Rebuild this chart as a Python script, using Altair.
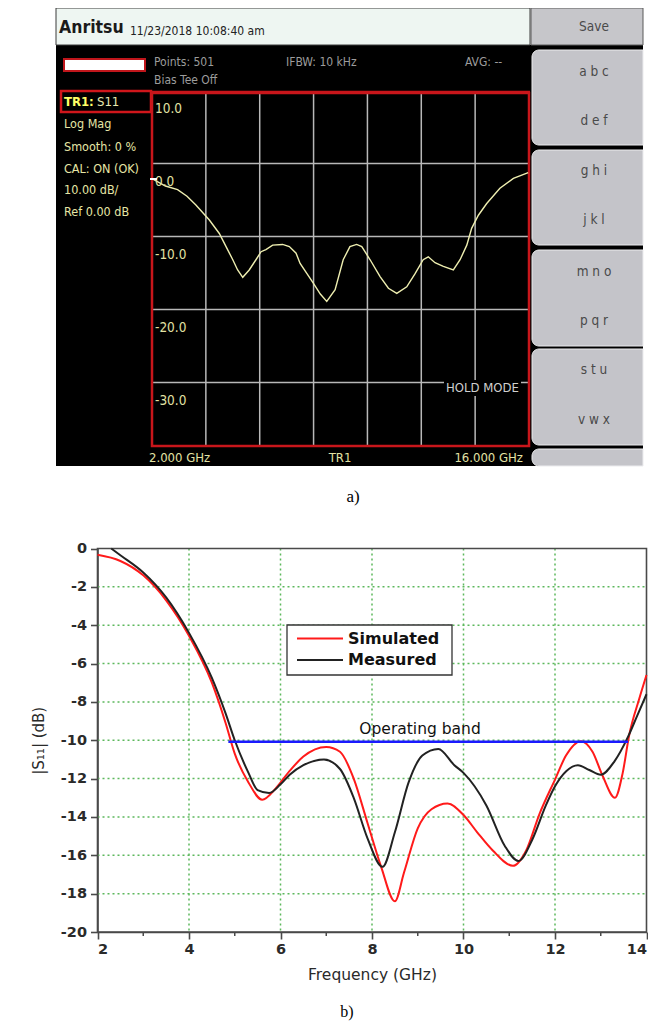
import altair as alt
import pandas as pd

# ---------------- data ----------------
# a) VNA screen trace, S11 in dB vs GHz
vna_freq = [2.0, 2.5, 2.95, 3.3, 3.63, 4.13, 4.5, 4.75, 5.0, 5.18, 5.37, 5.61, 5.86, 6.05,
            6.23, 6.48, 6.85, 7.1, 7.35, 7.5, 7.99, 8.25, 8.49, 8.8, 9.1, 9.35, 9.6, 9.79,
            10.1, 10.47, 10.78, 11.09, 11.46, 11.77, 12.07, 12.26, 12.51, 12.82, 13.19,
            13.44, 13.69, 13.87, 14.12, 14.43, 14.92, 15.42, 15.97]
vna_db = [-0.1, -1.1, -1.6, -2.5, -3.7, -5.75, -7.6, -9.4, -11.2, -12.6, -13.6, -12.6, -11.2,
          -10.1, -9.8, -9.2, -9.1, -9.4, -10.3, -11.7, -14.4, -15.9, -16.9, -15.3, -11.2,
          -9.4, -9.1, -9.4, -11.2, -13.5, -15.1, -15.8, -14.9, -13.1, -11.2, -10.8, -11.6,
          -12.1, -12.6, -11.2, -9.2, -6.9, -5.1, -3.5, -1.4, -0.05, 0.73]
vna_grid_freq = [4, 6, 8, 10, 12, 14]
vna_grid_db = [2, -8, -18, -28]
vna_label_db = [10, 0, -10, -20, -30]

# b) simulated / measured |S11|
sim_freq = [2.0, 2.5, 3.0, 3.5, 4.0, 4.5, 4.8, 5.0, 5.3, 5.6, 5.9, 6.2, 6.5, 7.0, 7.3, 7.6,
            7.9, 8.2, 8.5, 8.7, 9.0, 9.3, 9.65, 10.0, 10.3, 10.64, 11.08, 11.37, 11.66, 12.0,
            12.24, 12.57, 12.82, 13.04, 13.31, 13.48, 13.62, 13.84, 14.0]
sim_db = [-0.33, -0.65, -1.4, -2.7, -4.55, -7.0, -9.1, -10.7, -12.2, -13.1, -12.5, -11.6,
          -10.85, -10.35, -10.6, -12.0, -14.3, -16.6, -18.4, -16.9, -14.6, -13.6, -13.3,
          -13.9, -14.8, -15.75, -16.55, -15.75, -13.85, -12.05, -10.8, -10.05, -10.6,
          -11.85, -13.0, -11.7, -9.75, -7.85, -6.6]
meas_freq = [2.3, 2.5, 3.0, 3.5, 4.0, 4.5, 4.8, 5.0, 5.3, 5.5, 5.75, 6.0, 6.2, 6.5, 6.95, 7.3,
             7.6, 7.9, 8.23, 8.5, 8.8, 9.1, 9.45, 9.8, 10.0, 10.5, 10.9, 11.2, 11.5, 11.8,
             12.0, 12.25, 12.5, 12.75, 13.0, 13.3, 13.6, 13.8, 14.0]
meas_db = [0.0, -0.35, -1.25, -2.55, -4.4, -6.75, -8.6, -10.0, -11.7, -12.6, -12.75, -12.3,
           -11.8, -11.3, -11.0, -11.5, -13.0, -15.1, -16.6, -14.8, -12.2, -10.8, -10.45,
           -11.3, -11.7, -13.4, -15.5, -16.3, -15.2, -13.4, -12.4, -11.6, -11.3, -11.55,
           -11.8, -11.1, -9.8, -8.7, -7.6]
band_freq = [4.86, 13.6]
band_db = [-10.08, -10.08]
grid_freq = [4, 6, 8, 10, 12]
grid_db = [-2, -4, -6, -8, -10, -12, -14, -16, -18]
minor_freq = [3, 5, 7, 9, 11, 13]
series_names = ["Simulated", "Measured"]

# ---------------- layout helpers ----------------
W, H = 640, 1014


def X(px):
    return px - 8


def Y(py):
    return py - 8


one = pd.DataFrame({"k": [0]})
NARROW = "DejaVu Sans Condensed, Liberation Sans Narrow, DejaVu Sans, sans-serif"
SANS = "DejaVu Sans"


def box(x1, y1, x2, y2, **kw):
    return alt.Chart(one).mark_rect(**kw).encode(
        x=alt.value(X(x1)), x2=alt.value(X(x2)), y=alt.value(Y(y1)), y2=alt.value(Y(y2)))


def txt(s, x, y, **kw):
    kw.setdefault("baseline", "middle")
    kw.setdefault("align", "left")
    return alt.Chart(one).mark_text(text=s, **kw).encode(x=alt.value(X(x)), y=alt.value(Y(y)))


def hline(x1, x2, y, **kw):
    return alt.Chart(one).mark_rule(**kw).encode(
        x=alt.value(X(x1)), x2=alt.value(X(x2)), y=alt.value(Y(y)))


layers = []

# ================= a) VNA screenshot =================
layers += [
    box(56, 45, 643, 466, fill="#000000"),
    box(56, 8, 530, 45, fill="#eef6f2", stroke="#3a3a3a", strokeWidth=1),
    box(531, 8, 643, 45, fill="#c6c6ca", stroke="#5a5a5a", strokeWidth=1),
]
for (b1, b2) in [(50, 145), (150, 245), (250, 346), (349, 445), (449, 466)]:
    layers.append(box(532, b1, 643, b2, fill="#c4c4c9", stroke="#ececee", strokeWidth=1,
                      cornerRadiusTopLeft=7, cornerRadiusBottomLeft=7))
for s, yy in [("Save", 27), ("a b c", 72), ("d e f", 121), ("g h i", 171), ("j k l", 220),
              ("m n o", 272), ("p q r", 321), ("s t u", 370), ("v w x", 420)]:
    layers.append(txt(s, 594, yy, align="center", font=NARROW, fontSize=13.5, color="#4a4a4a"))

layers += [
    txt("Anritsu", 59, 28, font=NARROW, fontSize=17.5, fontWeight="bold", color="#1a1a1a"),
    txt("11/23/2018 10:08:40 am", 130, 31, font=NARROW, fontSize=12, color="#222222"),
    box(64, 59, 145, 71, fill="#ffffff", stroke="#c0161b", strokeWidth=2),
    txt("Points: 501", 154, 62, font=NARROW, fontSize=12, color="#9c9c9c"),
    txt("Bias Tee Off", 154, 80, font=NARROW, fontSize=12, color="#9c9c9c"),
    txt("IFBW: 10 kHz", 286, 62, font=NARROW, fontSize=12, color="#9c9c9c"),
    txt("AVG: --", 465, 62, font=NARROW, fontSize=12, color="#9c9c9c"),
    box(61, 91, 151, 112, fillOpacity=0, fill="#000000", stroke="#d0161b", strokeWidth=2.5),
    txt("TR1:", 64, 102, font=NARROW, fontSize=13, fontWeight="bold", color="#ffff66"),
    txt("S11", 97, 102, font=NARROW, fontSize=13, color="#e8e8b0"),
]
for s, yy in [("Log Mag", 124), ("Smooth: 0 %", 147), ("CAL: ON (OK)", 169),
              ("10.00 dB/", 190), ("Ref 0.00 dB", 212)]:
    layers.append(txt(s, 64, yy, font=NARROW, fontSize=12.5, color="#e6e6a6"))
layers.append(hline(151, 530, 92, color="#c8161b", strokeWidth=2.5))

# VNA scales: 0 dB at y=178, 10 dB per 73 px
px_per_db = 7.3
vna_top = (178 - 93) / px_per_db
vna_bot = -(446 - 178) / px_per_db
xv = alt.Scale(domain=[2, 16], range=[X(152), X(529)], nice=False, zero=False)
yv = alt.Scale(domain=[vna_bot, vna_top], range=[Y(446), Y(93)], nice=False, zero=False)

vgrid = alt.Chart(pd.DataFrame({"f": vna_grid_freq})).mark_rule(
    color="#b8b8b8", strokeWidth=1.5).encode(
    x=alt.X("f:Q", scale=xv, axis=None), y=alt.value(Y(93)), y2=alt.value(Y(446)))
hgrid = alt.Chart(pd.DataFrame({"d": vna_grid_db})).mark_rule(
    color="#b8b8b8", strokeWidth=1.5).encode(
    y=alt.Y("d:Q", scale=yv, axis=None), x=alt.value(X(152)), x2=alt.value(X(529)))
layers += [vgrid, hgrid,
           box(444, 380, 521, 396, fill="#000000"),
           box(152, 93, 529, 446, fillOpacity=0, fill="#000000", stroke="#c8161b", strokeWidth=2.5)]

trace = alt.Chart(pd.DataFrame({"f": vna_freq, "d": vna_db})).mark_line(
    color="#eeeeb0", strokeWidth=1.4).encode(
    x=alt.X("f:Q", scale=xv, axis=None), y=alt.Y("d:Q", scale=yv, axis=None))
lab_df = pd.DataFrame({"d": vna_label_db, "lbl": [f"{v:.1f}" for v in vna_label_db]})
vlabels = alt.Chart(lab_df).mark_text(
    align="left", baseline="middle", dy=4, font=NARROW, fontSize=13.5, color="#e2e2a4").encode(
    y=alt.Y("d:Q", scale=yv, axis=None), x=alt.value(X(155)), text="lbl:N")
layers += [trace, vlabels,
           hline(150, 157, 179, color="#ffffff", strokeWidth=2),
           txt("2.000 GHz", 149, 458, font=NARROW, fontSize=13, color="#e2e2a4"),
           txt("TR1", 340, 458, align="center", font=NARROW, fontSize=13, color="#e2e2a4"),
           txt("16.000 GHz", 523, 458, align="right", font=NARROW, fontSize=13, color="#e2e2a4"),
           txt("HOLD MODE", 446, 388, font=NARROW, fontSize=13, color="#d0d0d0"),
           txt("a)", 353, 497, align="center", font="Liberation Serif", fontSize=17, color="#000000"),
           txt("b)", 347, 1012, align="center", font="Liberation Serif", fontSize=16, color="#000000")]

# ================= b) |S11| plot =================
xb = alt.Scale(domain=[2, 14], range=[X(97.5), X(646.5)], nice=False, zero=False)
yb = alt.Scale(domain=[-20, 0], range=[Y(932), Y(548.5)], nice=False, zero=False)
AX = "#4a4a4a"
GREEN = "#5cb85c"

bgrid_v = alt.Chart(pd.DataFrame({"f": grid_freq})).mark_rule(
    color=GREEN, strokeDash=[2, 3], strokeWidth=1.5).encode(
    x=alt.X("f:Q", scale=xb, axis=None),
    y=alt.YDatum(0, scale=yb, axis=None), y2=alt.Y2Datum(-20))
bgrid_h = alt.Chart(pd.DataFrame({"d": grid_db})).mark_rule(
    color=GREEN, strokeDash=[2, 3], strokeWidth=1.5).encode(
    y=alt.Y("d:Q", scale=yb, axis=None),
    x=alt.XDatum(2, scale=xb, axis=None), x2=alt.X2Datum(14))
frame = alt.Chart(one).mark_rect(fillOpacity=0, fill="#ffffff", stroke=AX, strokeWidth=1.6).encode(
    x=alt.XDatum(2, scale=xb, axis=None), x2=alt.X2Datum(14),
    y=alt.YDatum(0, scale=yb, axis=None), y2=alt.Y2Datum(-20))
minor = alt.Chart(pd.DataFrame({"f": minor_freq})).mark_rule(color=AX, strokeWidth=1.5).encode(
    x=alt.X("f:Q", scale=xb, axis=None), y=alt.value(Y(932)), y2=alt.value(Y(932) + 4))

xaxis = alt.Axis(orient="bottom", offset=Y(932) - H, values=[2, 4, 6, 8, 10, 12, 14],
                 grid=False, domainColor=AX, domainWidth=1.6, tickColor=AX, tickWidth=1.6,
                 tickSize=7, labelFont=SANS, labelFontWeight="bold", labelFontSize=14.5,
                 labelColor="#2a2a2a", labelPadding=3, labelExpr="'' + datum.value",
                 title="Frequency (GHz)", titleFont=SANS, titleFontWeight="normal",
                 titleFontSize=15.5, titleColor="#2a2a2a", titlePadding=12)
yaxis = alt.Axis(orient="left", offset=-X(97.5), values=list(range(0, -21, -2)),
                 grid=False, domainColor=AX, domainWidth=1.6, tickColor=AX, tickWidth=1.6,
                 tickSize=7, labelFont=SANS, labelFontWeight="bold", labelFontSize=14.5,
                 labelColor="#2a2a2a", labelPadding=4, labelExpr="'' + datum.value",
                 title="|S₁₁| (dB)", titleFont=SANS, titleFontWeight="normal",
                 titleFontSize=15, titleColor="#2a2a2a", titlePadding=14)

sim = alt.Chart(pd.DataFrame({"f": sim_freq, "d": sim_db, "s": series_names[0]})).mark_line(
    color="#ff1a1a", strokeWidth=2, interpolate="monotone").encode(
    x=alt.X("f:Q", scale=xb, axis=xaxis), y=alt.Y("d:Q", scale=yb, axis=yaxis))
meas = alt.Chart(pd.DataFrame({"f": meas_freq, "d": meas_db, "s": series_names[1]})).mark_line(
    color="#222222", strokeWidth=2, interpolate="monotone").encode(
    x=alt.X("f:Q", scale=xb, axis=None), y=alt.Y("d:Q", scale=yb, axis=None))
band = alt.Chart(pd.DataFrame({"f": band_freq, "d": band_db})).mark_line(
    color="#1a1aff", strokeWidth=2.5).encode(
    x=alt.X("f:Q", scale=xb, axis=None), y=alt.Y("d:Q", scale=yb, axis=None))
band_text = alt.Chart(one).mark_text(
    text="Operating band", font=SANS, fontSize=15.5, color="#111111", baseline="middle").encode(
    x=alt.XDatum(9.05, scale=xb, axis=None), y=alt.YDatum(-9.43, scale=yb, axis=None))

layers += [bgrid_v, bgrid_h, frame, minor, sim, meas, band, band_text,
           box(287, 625, 452, 675, fill="#ffffff", stroke="#333333", strokeWidth=1.3),
           hline(297, 343, 638.5, color="#ff1a1a", strokeWidth=2),
           hline(297, 343, 660, color="#222222", strokeWidth=2),
           txt(series_names[0], 348, 638.5, font=SANS, fontSize=16, fontWeight="bold", color="#111111"),
           txt(series_names[1], 348, 660, font=SANS, fontSize=16, fontWeight="bold", color="#111111")]

chart = alt.layer(*layers).resolve_scale(x="independent", y="independent").properties(
    width=W, height=H, autosize=alt.AutoSizeParams(type="none"), padding=0,
    background="#ffffff").configure_view(strokeWidth=0)

chart.save("out.html", embed_options={"renderer": "svg", "actions": False})
